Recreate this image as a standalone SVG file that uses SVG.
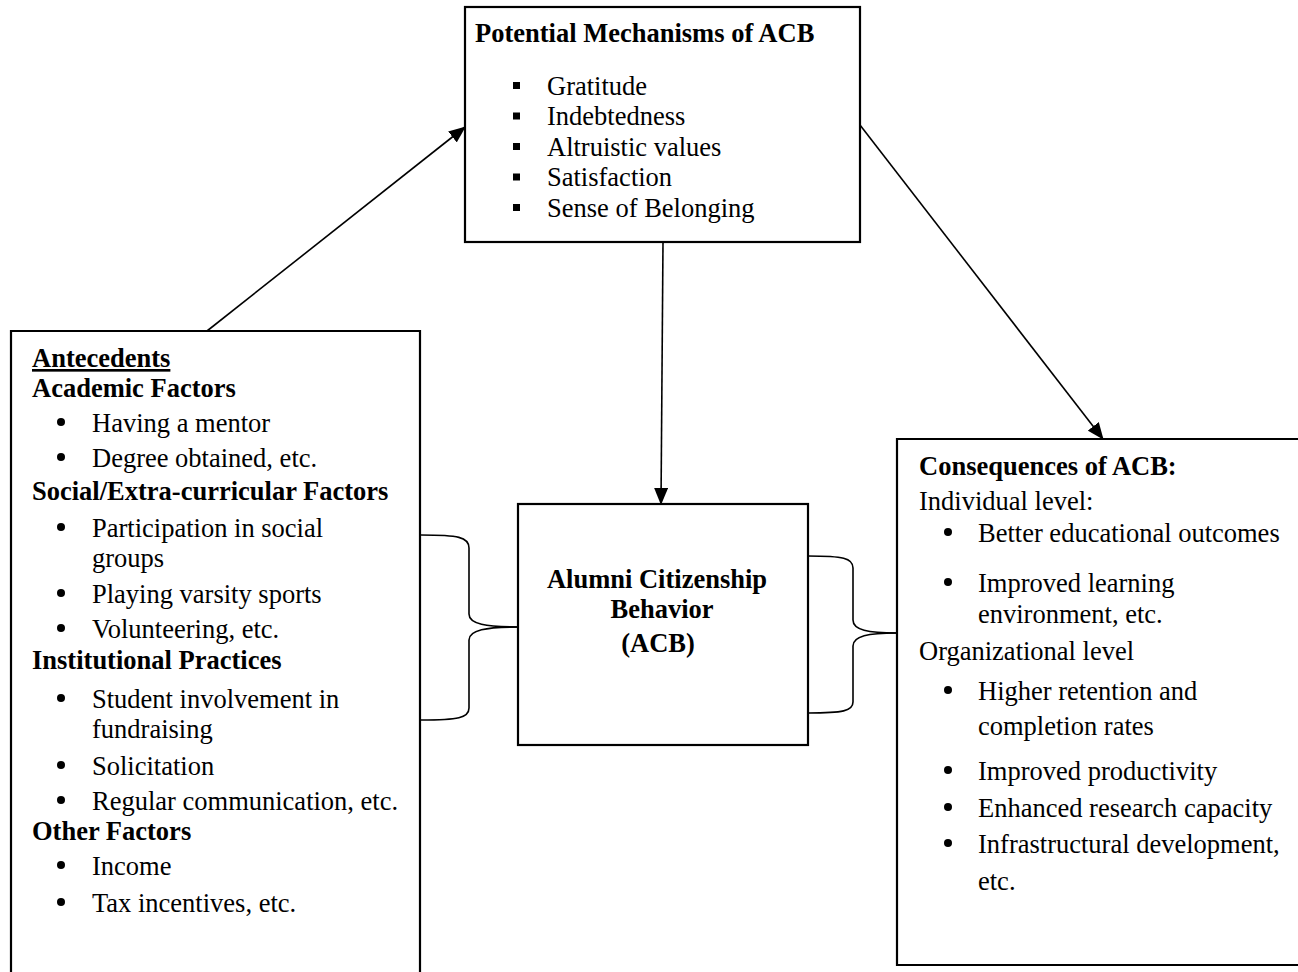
<svg xmlns="http://www.w3.org/2000/svg" width="1298" height="972" viewBox="0 0 1298 972">
  <style>
    .box { fill: #fff; stroke: #000; stroke-width: 2.2; }
    .edge { fill: none; stroke: #000; stroke-width: 1.6; }
    .brace { fill: none; stroke: #000; stroke-width: 1.6; }
    text { font-family: "Liberation Serif", "Times New Roman", serif; font-size: 26.5px; fill: #000; }
    .b { font-weight: bold; }
    .mid { text-anchor: middle; font-weight: bold; }
    .sq, .dot { fill: #000; }
  </style>
  <defs>
    <marker id="arrow" markerWidth="17" markerHeight="14" refX="16" refY="7" orient="auto" markerUnits="userSpaceOnUse">
      <path d="M0,0 L17,7 L0,14 Z" fill="#000"/>
    </marker>
  </defs>
  <rect width="1298" height="972" fill="#fff"/>

  <!-- Connectors -->
  <g id="connectors">
    <line class="edge" x1="207" y1="331" x2="465" y2="127" marker-end="url(#arrow)"/>
    <line class="edge" x1="663" y1="242" x2="661" y2="504" marker-end="url(#arrow)"/>
    <line class="edge" x1="860" y1="125" x2="1103" y2="439" marker-end="url(#arrow)"/>
    <!-- curly braces grouping the side boxes with the central box -->
    <path class="brace" d="M421,535 C458,535 469,537 469,548 L469,614 C469,624 486,627 518,627"/>
    <path class="brace" d="M518,627 C486,627 469,630 469,640 L469,708 C469,718 458,720 421,720"/>
    <path class="brace" d="M808,556 C843,556 853,558 853,568 L853,620 C853,630 868,633 897,633"/>
    <path class="brace" d="M897,633 C868,633 853,636 853,646 L853,702 C853,711 843,713 808,713"/>
  </g>

  <!-- Mechanisms -->
  <g id="mechanisms">
    <rect class="box" x="465" y="7" width="395" height="235"/>
    <text class="b" x="475" y="42">Potential Mechanisms of ACB</text>
    <rect class="sq" x="513" y="82" width="7" height="7"/>
    <text x="547" y="94.5">Gratitude</text>
    <rect class="sq" x="513" y="112.5" width="7" height="7"/>
    <text x="547" y="125">Indebtedness</text>
    <rect class="sq" x="513" y="143" width="7" height="7"/>
    <text x="547" y="155.5">Altruistic values</text>
    <rect class="sq" x="513" y="173.5" width="7" height="7"/>
    <text x="547" y="186">Satisfaction</text>
    <rect class="sq" x="513" y="204" width="7" height="7"/>
    <text x="547" y="216.5">Sense of Belonging</text>
  </g>

  <!-- Antecedents -->
  <g id="antecedents">
    <path class="box" d="M11,975 L11,331 L420,331 L420,975"/>
    <text class="b" x="32" y="367" text-decoration="underline">Antecedents</text>
    <text class="b" x="32" y="397">Academic Factors</text>
    <circle class="dot" cx="61" cy="422" r="4"/>
    <text x="92" y="432">Having a mentor</text>
    <circle class="dot" cx="61" cy="457" r="4"/>
    <text x="92" y="467">Degree obtained, etc.</text>
    <text class="b" x="32" y="500">Social/Extra-curricular Factors</text>
    <circle class="dot" cx="61" cy="527" r="4"/>
    <text x="92" y="537">Participation in social</text>
    <text x="92" y="567">groups</text>
    <circle class="dot" cx="61" cy="593" r="4"/>
    <text x="92" y="603">Playing varsity sports</text>
    <circle class="dot" cx="61" cy="628" r="4"/>
    <text x="92" y="638">Volunteering, etc.</text>
    <text class="b" x="32" y="669">Institutional Practices</text>
    <circle class="dot" cx="61" cy="698" r="4"/>
    <text x="92" y="708">Student involvement in</text>
    <text x="92" y="738">fundraising</text>
    <circle class="dot" cx="61" cy="765" r="4"/>
    <text x="92" y="775">Solicitation</text>
    <circle class="dot" cx="61" cy="800" r="4"/>
    <text x="92" y="810">Regular communication, etc.</text>
    <text class="b" x="32" y="840">Other Factors</text>
    <circle class="dot" cx="61" cy="865" r="4"/>
    <text x="92" y="875">Income</text>
    <circle class="dot" cx="61" cy="902" r="4"/>
    <text x="92" y="912">Tax incentives, etc.</text>
  </g>

  <!-- Alumni Citizenship Behavior -->
  <g id="acb">
    <rect class="box" x="518" y="504" width="290" height="241"/>
    <text class="mid" x="657" y="588">Alumni Citizenship</text>
    <text class="mid" x="662" y="618">Behavior</text>
    <text class="mid" x="658" y="652">(ACB)</text>
  </g>

  <!-- Consequences -->
  <g id="consequences">
    <path class="box" d="M1302,439 L897,439 L897,965 L1302,965"/>
    <text class="b" x="919" y="475">Consequences of ACB:</text>
    <text x="919" y="510">Individual level:</text>
    <circle class="dot" cx="948" cy="532" r="4"/>
    <text x="978" y="542">Better educational outcomes</text>
    <circle class="dot" cx="948" cy="582" r="4"/>
    <text x="978" y="592">Improved learning</text>
    <text x="978" y="623">environment, etc.</text>
    <text x="919" y="660">Organizational level</text>
    <circle class="dot" cx="948" cy="690" r="4"/>
    <text x="978" y="700">Higher retention and</text>
    <text x="978" y="735">completion rates</text>
    <circle class="dot" cx="948" cy="770" r="4"/>
    <text x="978" y="780">Improved productivity</text>
    <circle class="dot" cx="948" cy="807" r="4"/>
    <text x="978" y="817">Enhanced research capacity</text>
    <circle class="dot" cx="948" cy="843" r="4"/>
    <text x="978" y="853">Infrastructural development,</text>
    <text x="978" y="890">etc.</text>
  </g>
</svg>
